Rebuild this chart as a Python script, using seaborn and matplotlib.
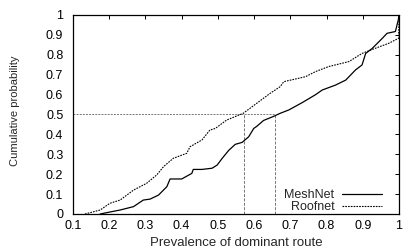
import matplotlib
matplotlib.use("Agg")
import matplotlib.pyplot as plt
import seaborn as sns
import pandas as pd

# ---- data ----
meshnet_x = [0.175, 0.202, 0.23, 0.267, 0.294, 0.313, 0.336, 0.359, 0.368, 0.40, 0.428,
             0.432, 0.456, 0.484, 0.498, 0.512, 0.53, 0.548, 0.567, 0.585, 0.599, 0.607,
             0.626, 0.653, 0.672, 0.696, 0.733, 0.77, 0.788, 0.825, 0.853, 0.88, 0.898,
             0.908, 0.926, 0.954, 0.967, 0.99, 0.998, 1.0]
meshnet_y = [0.0, 0.01, 0.02, 0.037, 0.07, 0.075, 0.095, 0.137, 0.176, 0.176, 0.204,
             0.224, 0.224, 0.23, 0.246, 0.28, 0.32, 0.35, 0.36, 0.388, 0.43, 0.44,
             0.47, 0.49, 0.506, 0.523, 0.56, 0.60, 0.623, 0.648, 0.673, 0.724, 0.749,
             0.807, 0.832, 0.883, 0.908, 0.917, 0.975, 1.0]
roofnet_x = [0.133, 0.175, 0.202, 0.23, 0.267, 0.303, 0.331, 0.35, 0.377, 0.414, 0.423,
             0.456, 0.478, 0.493, 0.524, 0.57, 0.607, 0.644, 0.672, 0.682, 0.742, 0.77,
             0.806, 0.862, 0.898, 0.935, 0.972, 0.999, 1.0]
roofnet_y = [0.0, 0.02, 0.054, 0.07, 0.12, 0.154, 0.196, 0.238, 0.28, 0.305, 0.338,
             0.372, 0.422, 0.43, 0.472, 0.506, 0.556, 0.606, 0.64, 0.665, 0.69, 0.716,
             0.741, 0.766, 0.807, 0.833, 0.858, 0.883, 1.0]
median_prob = 0.5
median_roofnet = 0.572
median_meshnet = 0.657
x_ticks = [0.1, 0.2, 0.3, 0.4, 0.5, 0.6, 0.7, 0.8, 0.9, 1.0]
x_tick_labels = ["0.1", "0.2", "0.3", "0.4", "0.5", "0.6", "0.7", "0.8", "0.9", "1"]
y_ticks = [0.0, 0.1, 0.2, 0.3, 0.4, 0.5, 0.6, 0.7, 0.8, 0.9, 1.0]
y_tick_labels = ["0", "0.1", "0.2", "0.3", "0.4", "0.5", "0.6", "0.7", "0.8", "0.9", "1"]

sns.set_style("white")
plt.rcParams["font.family"] = ["Liberation Sans", "DejaVu Sans"]

fig = plt.figure(figsize=(4.04, 2.5), dpi=100)
ax = fig.add_axes([73 / 404, 1 - 214 / 250, 326 / 404, 199 / 250])

# guide lines at the median
ax.plot([0.1, median_meshnet], [median_prob, median_prob], color="#777777",
        lw=0.7, dashes=(2, 1.2))
ax.plot([median_roofnet, median_roofnet], [0, median_prob], color="#777777",
        lw=0.7, dashes=(3, 1.5))
ax.plot([median_meshnet, median_meshnet], [0, median_prob], color="#777777",
        lw=0.7, dashes=(3, 1.5))

df_m = pd.DataFrame({"x": meshnet_x, "y": meshnet_y})
df_r = pd.DataFrame({"x": roofnet_x, "y": roofnet_y})
sns.lineplot(data=df_m, x="x", y="y", ax=ax, color="black", lw=0.9,
             estimator=None, sort=False, label="MeshNet")
sns.lineplot(data=df_r, x="x", y="y", ax=ax, color="black", lw=0.8,
             estimator=None, sort=False, label="Roofnet")
ax.lines[-1].set_dashes((1.5, 1))

ax.set_xlim(0.1, 1.0)
ax.set_ylim(0, 1)
ax.set_xticks(x_ticks)
ax.set_xticklabels(x_tick_labels)
ax.set_yticks(y_ticks)
ax.set_yticklabels(y_tick_labels)
ax.tick_params(direction="in", length=3, width=0.7, top=True, right=True,
               labelsize=9, colors="black")
ax.tick_params(axis="y", pad=7)
ax.tick_params(axis="x", pad=4.5)
for s in ax.spines.values():
    s.set_color("black")
    s.set_linewidth(0.9)
ax.set_xlabel("Prevalence of dominant route", fontsize=9.5)
ax.xaxis.set_label_coords(0.5, -0.118)
ax.set_ylabel("Cumulative probability", fontsize=8)
ax.yaxis.set_label_coords((20 - 73) / 326, (214 - 111) / 199)

leg = ax.legend(loc="lower right", frameon=False, fontsize=9, markerfirst=False,
                handlelength=3.2, handletextpad=0.6, labelspacing=0.0,
                borderpad=0, borderaxespad=0,
                bbox_to_anchor=((382 - 73) / 326, 0.005))
leg.get_lines()[1].set_dashes((1.5, 1))
for col in leg._legend_box._children[-1]._children:
    col.align = "right"

fig.savefig("out.png", dpi=100)
